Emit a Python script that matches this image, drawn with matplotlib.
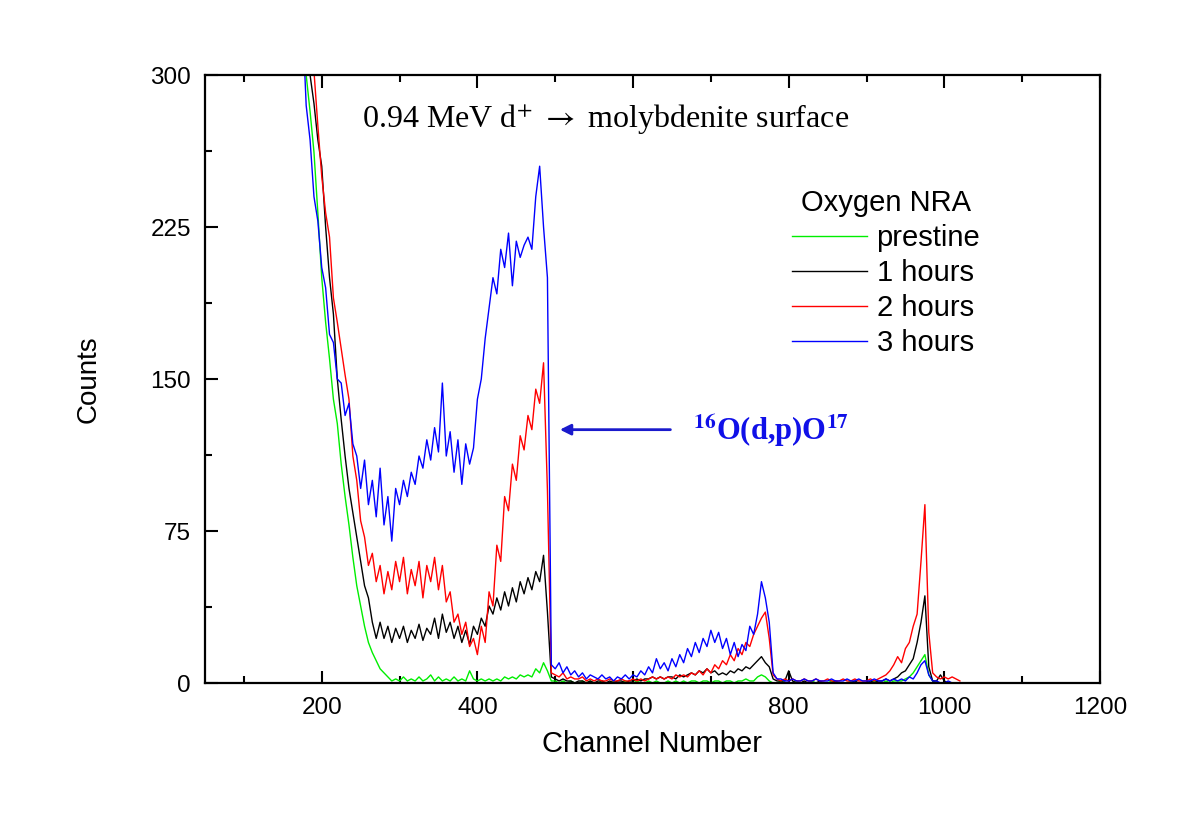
import numpy as np
import matplotlib
matplotlib.use("Agg")
import matplotlib.pyplot as plt
from matplotlib.ticker import MultipleLocator

plt.rcParams['font.family'] = ['Liberation Sans', 'DejaVu Sans']
plt.rcParams['mathtext.fontset'] = 'stix'

# channel grid (every 5th channel)
channels = np.arange(175, 1025, 5)

prestine = [
    330, 300, 282, 262, 232,
    200, 178, 160, 140, 128, 108, 92, 78, 62, 48, 38, 28, 20, 15, 11, 7, 5, 3, 1, 2,
    1, 3, 1, 2, 1, 3, 1, 2, 4, 1, 3, 1, 2, 1, 3, 1, 2, 1, 6, 2,
    1, 2, 1, 2, 1, 2, 1, 3, 2, 3, 2, 4, 3, 4, 3, 7, 5, 10, 6, 1,
    1, 0, 1, 0, 1, 0, 0, 1, 0, 1, 0, 0, 1, 0, 0, 1, 0, 0, 1, 0,
    0, 1, 0, 0, 1, 0, 1, 0, 0, 1, 0, 1, 0, 1, 0, 1, 1, 0, 1, 1,
    0, 1, 1, 0, 1, 1, 0, 1, 1, 2, 1, 1, 3, 4, 3, 1, 0, 0, 1, 0,
    0, 0, 1, 0, 0, 0, 1, 0, 0, 0, 0, 1, 0, 0, 0, 0, 1, 0, 0, 0,
    0, 0, 1, 0, 0, 1, 0, 1, 1, 1, 2, 3, 5, 8, 11, 14, 4, 1, 0, 0,
    0, 0, 0, 0, 0,
]

hours_1 = [
    345, 320, 300, 286, 268,
    255, 225, 200, 182, 150, 130, 112, 96, 84, 72, 60, 48, 42, 30, 22, 30, 22, 28, 20, 27,
    22, 28, 20, 26, 22, 29, 21, 27, 24, 32, 22, 34, 25, 30, 22, 28, 20, 26, 19, 28,
    24, 32, 28, 38, 34, 42, 36, 45, 38, 47, 40, 50, 44, 52, 46, 55, 50, 63, 35, 3,
    2, 1, 2, 1, 1, 0, 1, 1, 0, 1, 0, 1, 1, 0, 1, 0, 1, 1, 0, 1,
    1, 2, 1, 2, 2, 3, 2, 3, 2, 3, 3, 2, 4, 3, 4, 5, 4, 6, 5, 7,
    5, 6, 4, 5, 4, 6, 5, 7, 6, 8, 7, 9, 11, 13, 10, 8, 2, 1, 1, 1,
    6, 1, 0, 0, 1, 0, 0, 0, 1, 0, 0, 0, 1, 0, 0, 0, 0, 1, 0, 0,
    0, 1, 0, 1, 1, 2, 1, 2, 3, 5, 6, 9, 12, 20, 30, 43, 8, 1, 1, 4,
    1, 0, 0, 0, 0,
]

hours_2 = [
    340, 330, 318, 302, 275,
    250, 232, 220, 190, 178, 165, 152, 140, 112, 100, 80, 72, 58, 64, 50, 58, 44, 55, 46, 60,
    50, 62, 44, 56, 48, 60, 42, 58, 50, 62, 46, 58, 40, 45, 30, 34, 24, 30, 18, 22,
    14, 28, 20, 45, 38, 68, 60, 92, 85, 108, 100, 122, 115, 132, 125, 145, 138, 158, 95, 5,
    4, 3, 5, 2, 3, 2, 2, 3, 1, 2, 1, 2, 1, 1, 2, 1, 1, 2, 1, 1,
    2, 1, 2, 1, 2, 3, 2, 3, 2, 3, 2, 4, 3, 4, 3, 5, 4, 6, 4, 7,
    5, 9, 7, 11, 9, 14, 11, 17, 14, 20, 18, 24, 28, 32, 35, 22, 4, 2, 1, 2,
    1, 2, 1, 1, 2, 1, 1, 2, 1, 1, 2, 1, 1, 1, 2, 1, 1, 2, 1, 1,
    1, 2, 1, 2, 3, 4, 6, 9, 13, 10, 17, 20, 28, 34, 60, 88, 25, 5, 3, 2,
    3, 2, 3, 2, 1,
]

hours_3 = [
    330, 285, 268, 240, 228,
    205, 195, 172, 168, 150, 148, 132, 138, 118, 112, 96, 110, 88, 100, 82, 106, 78, 92, 70, 96,
    88, 100, 92, 104, 98, 112, 106, 120, 110, 126, 114, 148, 112, 124, 104, 120, 98, 118, 108, 116,
    140, 150, 170, 185, 200, 192, 214, 205, 222, 196, 218, 210, 216, 220, 214, 240, 255, 225, 200, 9,
    7, 10, 5, 8, 4, 6, 3, 5, 2, 4, 3, 2, 4, 2, 3, 1, 3, 2, 4, 2,
    4, 3, 6, 4, 8, 5, 12, 7, 10, 6, 12, 8, 14, 10, 17, 13, 20, 15, 22, 18,
    26, 20, 25, 17, 22, 14, 20, 13, 19, 16, 28, 24, 34, 50, 42, 30, 5, 2, 2, 1,
    1, 2, 1, 1, 2, 1, 1, 2, 1, 1, 1, 2, 1, 1, 1, 2, 1, 1, 2, 1,
    1, 1, 2, 1, 1, 2, 1, 2, 1, 2, 1, 3, 2, 5, 9, 11, 4, 1, 1, 0,
    0, 1, 0, 0, 0,
]

labels = ['prestine', '1 hours', '2 hours', '3 hours']
colors = ['#00ee00', 'black', '#ff0000', '#0000ff']


fig = plt.figure(figsize=(12, 8.27), dpi=100)
ax = fig.add_axes([205/1200, 144/827, 895/1200, 608/827])

for series, lab, col in zip([prestine, hours_1, hours_2, hours_3], labels, colors):
    ax.plot(channels, series, color=col, lw=1.0, label=lab)

ax.set_xlim(50, 1200)
ax.set_ylim(0, 300)
ax.set_xticks(range(200, 1201, 200))
ax.xaxis.set_minor_locator(MultipleLocator(100))
ax.set_yticks([0, 75, 150, 225, 300])
ax.yaxis.set_minor_locator(MultipleLocator(37.5))

ax.tick_params(which='both', direction='in', top=True, right=False, width=1.5,
               labelsize=17.5, pad=10)
ax.tick_params(which='major', length=9)
ax.tick_params(which='minor', length=5)
for sp in ax.spines.values():
    sp.set_linewidth(1.6)

ax.set_xlabel('Channel Number', fontsize=21)
ax.set_ylabel('Counts', fontsize=20)
ax.xaxis.set_label_coords(0.5, -0.078)
ax.yaxis.set_label_coords(-0.115, 0.5)

ax.text(565, 278, r"0.94 MeV d$^{+}$ $\rightarrow$ molybdenite surface",
        family='Liberation Serif', fontsize=23, ha='center', va='center')

ax.annotate('', xy=(506, 125), xytext=(648, 125),
            arrowprops=dict(arrowstyle='-|>', color='#1a1acc', lw=2,
                            mutation_scale=16, shrinkA=0, shrinkB=0))
ax.text(677, 125, r"$^{\mathbf{16}}$O(d,p)O$^{\mathbf{17}}$", color='#1010e8',
        fontsize=22, fontweight='bold', family='Liberation Serif', va='center')

ax.legend(loc='center', bbox_to_anchor=(886/1200, 1 - 273/827),
          bbox_transform=fig.transFigure, frameon=False, title='Oxygen NRA',
          fontsize=21, title_fontsize=21, handlelength=2.57, handletextpad=0.34,
          labelspacing=0.24)

fig.savefig('out.png', dpi=100)
